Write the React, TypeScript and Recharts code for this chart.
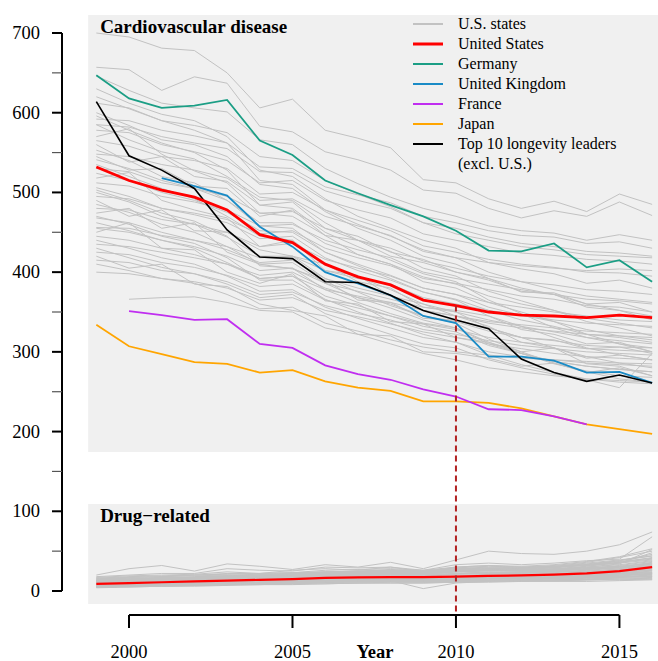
import { Legend, Line, LineChart, ReferenceArea, ReferenceLine, XAxis, YAxis } from "recharts";

const years = [1999, 2000, 2001, 2002, 2003, 2004, 2005, 2006, 2007, 2008, 2009, 2010, 2011, 2012, 2013, 2014, 2015, 2016];

// cardiovascular disease, deaths per 100,000
const usCardio = [532, 515, 503, 494, 478, 447, 437, 410, 394, 384, 365, 358, 350, 346, 345, 343, 346, 343];
const germany = [647, 618, 606, 609, 616, 565, 547, 515, 499, 484, 470, 452, 427, 426, 436, 406, 415, 388];
const unitedKingdom = [null, null, 518, 508, 496, 457, 432, 400, 386, 371, 345, 336, 294, 294, 289, 274, 275, 261];
const france = [null, 351, 346, 340, 341, 310, 305, 283, 272, 265, 253, 244, 228, 227, 219, 209, null, null];
const japan = [334, 307, 297, 287, 285, 274, 277, 263, 255, 251, 238, 238, 236, 229, 219, 209, 203, 197];
const top10 = [614, 546, 528, 505, 453, 419, 417, 388, 387, 371, 352, 340, 329, 291, 274, 263, 271, 261];

const stateCardio = [
  [700, 695, 681, 678, 650, 606, 617, 578, 568, 556, 516, 512, 492, 480, 489, 476, 498, 485],
  [657, 654, 628, 645, 637, 583, 576, 551, 541, 528, 503, 499, 480, 468, 477, 470, 488, 471],
  [646, 628, 612, 606, 601, 566, 560, 530, 511, 494, 480, 470, 458, 452, 449, 440, 447, 440],
  [630, 612, 598, 590, 570, 528, 520, 492, 470, 455, 440, 430, 412, 404, 398, 386, 390, 380],
  [612, 606, 590, 584, 575, 545, 540, 515, 498, 482, 462, 455, 444, 436, 432, 426, 424, 420],
  [600, 584, 566, 560, 545, 510, 505, 476, 455, 440, 420, 410, 392, 380, 372, 360, 352, 345],
  [592, 590, 578, 571, 562, 532, 530, 507, 497, 487, 470, 462, 452, 446, 444, 436, 438, 430],
  [585, 566, 551, 542, 520, 494, 490, 462, 440, 426, 405, 395, 376, 364, 352, 338, 330, 320],
  [578, 575, 560, 551, 540, 512, 515, 490, 478, 468, 448, 440, 432, 424, 421, 416, 414, 410],
  [570, 580, 548, 527, 512, 474, 470, 446, 422, 410, 388, 380, 362, 350, 338, 322, 310, 300],
  [565, 558, 545, 540, 530, 498, 500, 478, 465, 452, 433, 425, 416, 410, 406, 400, 399, 395],
  [560, 538, 545, 520, 514, 484, 488, 455, 445, 425, 416, 400, 390, 376, 372, 356, 352, 340],
  [553, 540, 520, 512, 490, 458, 455, 425, 408, 392, 375, 365, 345, 332, 318, 305, 296, 290],
  [548, 545, 535, 528, 518, 490, 492, 470, 458, 446, 426, 418, 412, 408, 405, 402, 404, 402],
  [541, 530, 515, 505, 490, 462, 462, 436, 422, 410, 394, 385, 370, 360, 352, 342, 336, 330],
  [535, 520, 505, 492, 470, 445, 440, 410, 394, 378, 360, 350, 330, 318, 305, 294, 286, 280],
  [530, 526, 512, 505, 495, 474, 476, 455, 440, 430, 414, 405, 395, 388, 384, 378, 376, 372],
  [524, 515, 500, 490, 475, 452, 450, 425, 410, 396, 380, 372, 356, 346, 338, 328, 320, 315],
  [518, 525, 490, 478, 468, 432, 440, 402, 396, 370, 360, 345, 332, 312, 305, 285, 282, 270],
  [512, 508, 495, 488, 478, 458, 460, 440, 428, 418, 400, 392, 385, 378, 372, 366, 364, 360],
  [506, 495, 480, 472, 462, 442, 445, 418, 402, 390, 375, 366, 352, 340, 332, 322, 318, 312],
  [500, 488, 470, 460, 444, 420, 420, 392, 375, 358, 345, 336, 316, 300, 286, 275, 266, 262],
  [495, 492, 480, 474, 466, 448, 452, 430, 418, 408, 392, 386, 378, 370, 366, 358, 356, 350],
  [490, 470, 478, 452, 450, 428, 420, 410, 388, 380, 356, 352, 345, 328, 322, 310, 312, 300],
  [485, 475, 460, 450, 432, 410, 412, 386, 368, 355, 340, 330, 312, 298, 285, 276, 270, 268],
  [480, 478, 466, 460, 450, 432, 436, 416, 405, 395, 380, 372, 362, 356, 350, 345, 340, 338],
  [474, 480, 455, 462, 425, 410, 404, 390, 365, 362, 342, 340, 330, 318, 315, 304, 306, 298],
  [468, 462, 450, 440, 428, 412, 415, 392, 380, 370, 352, 345, 336, 330, 326, 322, 320, 318],
  [462, 452, 440, 430, 412, 392, 395, 370, 358, 345, 332, 325, 308, 298, 288, 282, 278, 275],
  [456, 455, 446, 440, 432, 418, 420, 402, 392, 385, 368, 360, 352, 346, 340, 336, 334, 332],
  [450, 462, 430, 428, 400, 386, 398, 364, 360, 338, 335, 318, 312, 300, 305, 292, 296, 290],
  [445, 440, 430, 422, 410, 396, 400, 380, 368, 360, 345, 338, 326, 318, 314, 308, 306, 305],
  [440, 430, 418, 410, 395, 376, 378, 356, 342, 330, 318, 312, 300, 294, 290, 286, 284, 282],
  [435, 432, 425, 418, 410, 392, 395, 378, 370, 362, 352, 345, 338, 334, 330, 326, 324, 322],
  [430, 418, 406, 398, 385, 368, 372, 348, 335, 322, 310, 305, 290, 280, 272, 265, 255, 298],
  [425, 422, 412, 406, 396, 382, 385, 365, 355, 345, 335, 328, 318, 312, 308, 304, 302, 300],
  [420, 405, 410, 385, 382, 360, 352, 345, 322, 320, 300, 298, 292, 282, 286, 274, 280, 270],
  [415, 412, 402, 398, 388, 372, 375, 358, 348, 340, 328, 322, 314, 308, 304, 300, 298, 296],
  [410, 402, 392, 386, 372, 354, 356, 336, 326, 315, 306, 300, 296, 292, 290, 288, 286, 285],
  [400, 398, 392, 388, 380, 365, 368, 352, 344, 335, 325, 318, 310, 304, 298, 294, 292, 290],
  [null, 366, 368, 369, 362, 352, 350, 330, 322, 310, 298, 290, 280, 275, 270, 266, 264, 262],
  [620, 605, 590, 578, 562, 515, 510, 478, 460, 445, 428, 418, 400, 388, 378, 370, 366, 362],
  [596, 578, 562, 550, 528, 484, 480, 450, 432, 415, 398, 388, 365, 348, 330, 318, 310, 305],
  [545, 528, 530, 508, 505, 470, 478, 446, 440, 420, 412, 400, 392, 375, 374, 360, 362, 350],
  [503, 490, 474, 464, 445, 408, 405, 378, 362, 348, 336, 330, 310, 298, 288, 282, 278, 275],
  [470, 460, 445, 436, 418, 390, 390, 366, 350, 336, 322, 312, 296, 284, 274, 266, 262, 260],
  [455, 450, 440, 432, 420, 402, 405, 386, 376, 366, 356, 350, 340, 332, 325, 318, 314, 310],
  [585, 582, 570, 562, 555, 526, 525, 502, 490, 480, 462, 448, 440, 432, 428, 422, 420, 418],
];

// drug-related deaths per 100,000
const usDrug = [9, 10, 11, 12, 13, 14, 15, 16.5, 17, 17.5, 17.5, 18, 19, 19.5, 20.5, 22, 25, 30];

const stateDrug = [
  [20, 28, 32, 25, 34, 31, 27, 33, 30, 36, 28, 39, 50, 47, 46, 50, 58, 74],
  [18, 20, 22, 22, 28, 26, 25, 30, 29, 30, 26, 33, 35, 33, 35, 38, 40, 68],
  [15, 17, 18, 20, 22, 22, 23, 26, 27, 28, 26, 30, 32, 31, 33, 37, 43, 53],
  [12, 14, 16, 17, 19, 20, 22, 24, 25, 27, 25, 29, 31, 30, 32, 36, 42, 50],
  [14, 15, 16, 17, 18, 19, 20, 21, 22, 23, 22, 25, 27, 27, 29, 33, 38, 46],
  [10, 12, 13, 15, 16, 18, 19, 21, 22, 24, 23, 26, 28, 29, 31, 35, 39, 44],
  [8, 9, 11, 12, 14, 15, 17, 19, 20, 22, 21, 24, 26, 26, 28, 31, 36, 42],
  [16, 18, 19, 20, 21, 22, 23, 24, 24, 25, 24, 26, 27, 27, 28, 30, 33, 38],
  [6, 7, 8, 9, 10, 11, 12, 13, 14, 15, 15, 17, 19, 19, 21, 24, 28, 34],
  [11, 12, 13, 14, 15, 16, 17, 18, 18, 19, 18, 21, 22, 22, 24, 26, 29, 32],
  [9, 10, 11, 12, 13, 13, 14, 15, 16, 17, 16, 18, 20, 20, 21, 23, 26, 30],
  [13, 14, 15, 16, 17, 18, 19, 20, 20, 21, 20, 22, 23, 23, 24, 25, 27, 29],
  [7, 8, 9, 10, 11, 12, 13, 14, 15, 16, 16, 18, 19, 19, 20, 22, 24, 27],
  [5, 6, 7, 8, 9, 10, 11, 12, 13, 14, 13, 15, 16, 17, 18, 20, 22, 25],
  [12, 13, 13, 14, 14, 15, 16, 16, 17, 17, 16, 18, 19, 19, 20, 21, 22, 24],
  [8, 9, 9, 10, 11, 12, 12, 13, 14, 14, 14, 15, 16, 16, 17, 18, 20, 22],
  [10, 11, 11, 12, 13, 13, 14, 15, 15, 16, 15, 17, 17, 18, 18, 19, 20, 21],
  [6, 7, 7, 8, 9, 10, 10, 11, 12, 13, 12, 14, 15, 15, 16, 17, 18, 20],
  [9, 9, 10, 10, 11, 12, 12, 13, 13, 14, 14, 15, 15, 16, 16, 17, 18, 19],
  [7, 7, 8, 9, 9, 10, 11, 11, 12, 12, 12, 13, 14, 14, 15, 16, 17, 18],
  [5, 5, 6, 6, 7, 8, 8, 9, 10, 10, 10, 11, 12, 12, 13, 14, 15, 16],
  [11, 12, 12, 13, 13, 14, 14, 14, 15, 15, 14, 16, 16, 16, 17, 17, 18, 18],
  [8, 8, 9, 9, 10, 10, 11, 11, 12, 12, 11, 12, 13, 13, 13, 14, 15, 15],
  [6, 6, 7, 7, 8, 8, 9, 9, 10, 10, 10, 11, 11, 12, 12, 12, 13, 14],
  [17, 19, 20, 21, 24, 22, 26, 28, 26, 30, 24, 30, 32, 30, 30, 33, 36, 40],
  [13, 15, 16, 17, 18, 19, 21, 22, 23, 24, 22, 25, 26, 26, 27, 29, 31, 35],
  [10, 11, 12, 13, 14, 16, 17, 18, 19, 20, 19, 22, 24, 23, 25, 28, 32, 37],
  [7, 8, 10, 11, 12, 13, 14, 16, 17, 18, 17, 19, 21, 21, 22, 24, 27, 31],
  [4, 5, 6, 7, 8, 9, 10, 11, 12, 13, 3, 10, 12, 13, 14, 15, 17, 19],
  [12, 13, 14, 16, 17, 18, 19, 21, 22, 23, 21, 24, 25, 25, 26, 28, 30, 33],
  [15, 16, 17, 18, 19, 20, 20, 22, 23, 24, 22, 25, 26, 25, 26, 27, 29, 31],
  [9, 10, 12, 13, 15, 16, 18, 20, 21, 23, 22, 26, 28, 28, 30, 33, 37, 41],
  [11, 13, 14, 15, 17, 18, 20, 22, 23, 25, 23, 27, 29, 28, 30, 32, 35, 39],
  [6, 7, 8, 9, 10, 11, 12, 13, 14, 15, 14, 16, 17, 18, 19, 21, 23, 26],
  [8, 9, 10, 11, 12, 13, 14, 15, 16, 17, 16, 18, 19, 19, 20, 22, 24, 26],
  [14, 15, 16, 17, 19, 20, 21, 23, 24, 25, 23, 26, 27, 26, 27, 29, 31, 34],
  [5, 6, 7, 8, 9, 9, 10, 11, 11, 12, 12, 13, 13, 14, 14, 15, 16, 17],
  [10, 10, 11, 12, 12, 13, 14, 15, 15, 16, 16, 17, 18, 18, 19, 20, 22, 23],
  [7, 8, 8, 9, 10, 11, 12, 13, 14, 15, 14, 16, 17, 17, 18, 19, 21, 23],
  [12, 14, 15, 17, 18, 20, 21, 23, 24, 26, 24, 28, 30, 29, 31, 34, 38, 44],
  [9, 10, 11, 12, 13, 14, 15, 16, 17, 18, 17, 19, 20, 20, 21, 23, 25, 28],
  [6, 7, 8, 9, 9, 10, 11, 12, 12, 13, 13, 14, 15, 15, 16, 17, 19, 21],
  [16, 17, 18, 19, 20, 21, 22, 24, 25, 26, 25, 28, 29, 29, 30, 32, 35, 48],
  [8, 9, 10, 10, 11, 12, 13, 14, 14, 15, 15, 16, 17, 17, 18, 19, 20, 22],
  [11, 12, 13, 14, 15, 16, 17, 18, 19, 20, 19, 21, 22, 22, 23, 25, 27, 30],
  [13, 14, 14, 15, 16, 17, 18, 19, 20, 21, 20, 22, 23, 24, 25, 27, 30, 36],
  [5, 6, 6, 7, 8, 8, 9, 10, 10, 11, 11, 12, 12, 13, 13, 14, 14, 15],
  [10, 11, 12, 14, 15, 17, 18, 20, 21, 22, 21, 24, 26, 25, 27, 30, 34, 52],
];

const yTicks = [0, 50, 100, 150, 200, 250, 300, 350, 400, 450, 500, 550, 600, 650, 700];
const xTicks = [2000, 2005, 2010, 2015];

const legendLabels = ["U.S. states", "United States", "Germany", "United Kingdom", "France", "Japan", "Top 10 longevity leaders"];

const GRAY = "#c2c2c2";
const RED = "#ff0000";
const TEAL = "#1b9e85";
const BLUE = "#1a8bc6";
const PURPLE = "#c02ef0";
const ORANGE = "#ffa500";
const BLACK = "#000000";
const legendColors = [GRAY, RED, TEAL, BLUE, PURPLE, ORANGE, BLACK];

const FONT = "'Liberation Serif', 'Times New Roman', serif";
const X_MIN = 1997.95;
const X_MAX = 2016.18;
const PANEL_LEFT = 1998.75;
const AXIS_LEVEL = -30;

const rows = years.map((year, i) => {
  const row: Record<string, number | null> = {
    year,
    us: usCardio[i],
    de: germany[i],
    uk: unitedKingdom[i],
    fr: france[i],
    jp: japan[i],
    top: top10[i],
    usDrug: usDrug[i],
  };
  stateCardio.forEach((s, k) => (row[`s${k}`] = s[i]));
  stateDrug.forEach((s, k) => (row[`d${k}`] = s[i]));
  return row;
});

function YTick({ y, payload }: any) {
  const major = payload.value % 100 === 0;
  return (
    <g>
      <line x1={52} x2={62} y1={y} y2={y} stroke={major ? "#000" : "#555"} strokeWidth={major ? 2 : 1.2} />
      {major && (
        <text x={40} y={y} dy={6} textAnchor="end" fontFamily={FONT} fontSize={18.5} fill="#000">
          {payload.value}
        </text>
      )}
    </g>
  );
}

function XTick({ x, payload }: any) {
  return (
    <g>
      <line x1={x} x2={x} y1={615} y2={628} stroke="#000" strokeWidth={2} />
      <text x={x} y={658} textAnchor="middle" fontFamily={FONT} fontSize={18.5} fill="#000">
        {payload.value}
      </text>
    </g>
  );
}

function YearLabel() {
  return (
    <text x={375} y={658} textAnchor="middle" fontFamily={FONT} fontSize={18.5} fontWeight="bold" fill="#000">
      Year
    </text>
  );
}

function PanelTitle({ viewBox, text }: any) {
  return (
    <text x={viewBox.x + 12} y={viewBox.y + 18} fontFamily={FONT} fontSize={19} fontWeight="bold" fill="#000">
      {text}
    </text>
  );
}

function LegendBox() {
  return (
    <div style={{ position: "absolute", left: 413, top: 14, fontFamily: FONT, fontSize: 16, color: "#000" }}>
      {legendLabels.map((label, i) => (
        <div key={label} style={{ display: "flex", alignItems: "flex-start", height: 20, lineHeight: "20px" }}>
          <svg width={30} height={20} style={{ marginRight: 15, flex: "none" }}>
            <line x1={0} x2={30} y1={10} y2={10} stroke={legendColors[i]} strokeWidth={i === 1 ? 3 : 2} />
          </svg>
          <div style={{ whiteSpace: "nowrap" }}>
            {label}
            {i === legendLabels.length - 1 && <div>(excl. U.S.)</div>}
          </div>
        </div>
      ))}
    </div>
  );
}

export default function App() {
  return (
    <div style={{ position: "absolute", left: 0, top: 0 }}>
      <LineChart width={658} height={661} data={rows} margin={{ top: 33, right: 0, bottom: 0, left: 0 }}>
        <ReferenceArea x1={PANEL_LEFT} x2={X_MAX} y1={174.5} y2={722.7} fill="#f0f0f0" fillOpacity={1} stroke="none" ifOverflow="visible" label={<PanelTitle text="Cardiovascular disease" />} />
        <ReferenceArea x1={PANEL_LEFT} x2={X_MAX} y1={-16.3} y2={109} fill="#f0f0f0" fillOpacity={1} stroke="none" ifOverflow="visible" label={<PanelTitle text="Drug−related" />} />
        <XAxis dataKey="year" type="number" domain={[X_MIN, X_MAX]} ticks={xTicks} interval={0} height={70} axisLine={false} tickLine={false} tick={<XTick />} label={<YearLabel />} />
        <YAxis type="number" domain={[0, 700]} ticks={yTicks} interval={0} width={62} axisLine={{ stroke: "#000", strokeWidth: 2 }} tickLine={false} tick={<YTick />} />
        {stateCardio.map((_, k) => (
          <Line key={`s${k}`} dataKey={`s${k}`} type="linear" stroke={GRAY} strokeWidth={1} dot={false} activeDot={false} isAnimationActive={false} />
        ))}
        {stateDrug.map((_, k) => (
          <Line key={`d${k}`} dataKey={`d${k}`} type="linear" stroke={GRAY} strokeWidth={1} dot={false} activeDot={false} isAnimationActive={false} />
        ))}
        <Line dataKey="jp" stroke={ORANGE} strokeWidth={1.8} dot={false} activeDot={false} isAnimationActive={false} />
        <Line dataKey="fr" stroke={PURPLE} strokeWidth={1.8} dot={false} activeDot={false} isAnimationActive={false} />
        <Line dataKey="de" stroke={TEAL} strokeWidth={1.8} dot={false} activeDot={false} isAnimationActive={false} />
        <Line dataKey="uk" stroke={BLUE} strokeWidth={1.8} dot={false} activeDot={false} isAnimationActive={false} />
        <Line dataKey="top" stroke={BLACK} strokeWidth={1.6} dot={false} activeDot={false} isAnimationActive={false} />
        <Line dataKey="us" stroke={RED} strokeWidth={2.8} dot={false} activeDot={false} isAnimationActive={false} />
        <Line dataKey="usDrug" stroke={RED} strokeWidth={2.2} dot={false} activeDot={false} isAnimationActive={false} />
        <ReferenceLine segment={[{ x: 2010, y: usCardio[11] }, { x: 2010, y: AXIS_LEVEL }]} stroke="#b22222" strokeWidth={2} strokeDasharray="6 4" ifOverflow="visible" />
        <ReferenceLine segment={[{ x: 2000, y: AXIS_LEVEL }, { x: 2015, y: AXIS_LEVEL }]} stroke="#000" strokeWidth={2} ifOverflow="visible" />
        <Legend layout="vertical" align="center" verticalAlign="middle" wrapperStyle={{ left: 0, top: 0, width: 658, height: 0 }} content={() => <LegendBox />} />
      </LineChart>
    </div>
  );
}
